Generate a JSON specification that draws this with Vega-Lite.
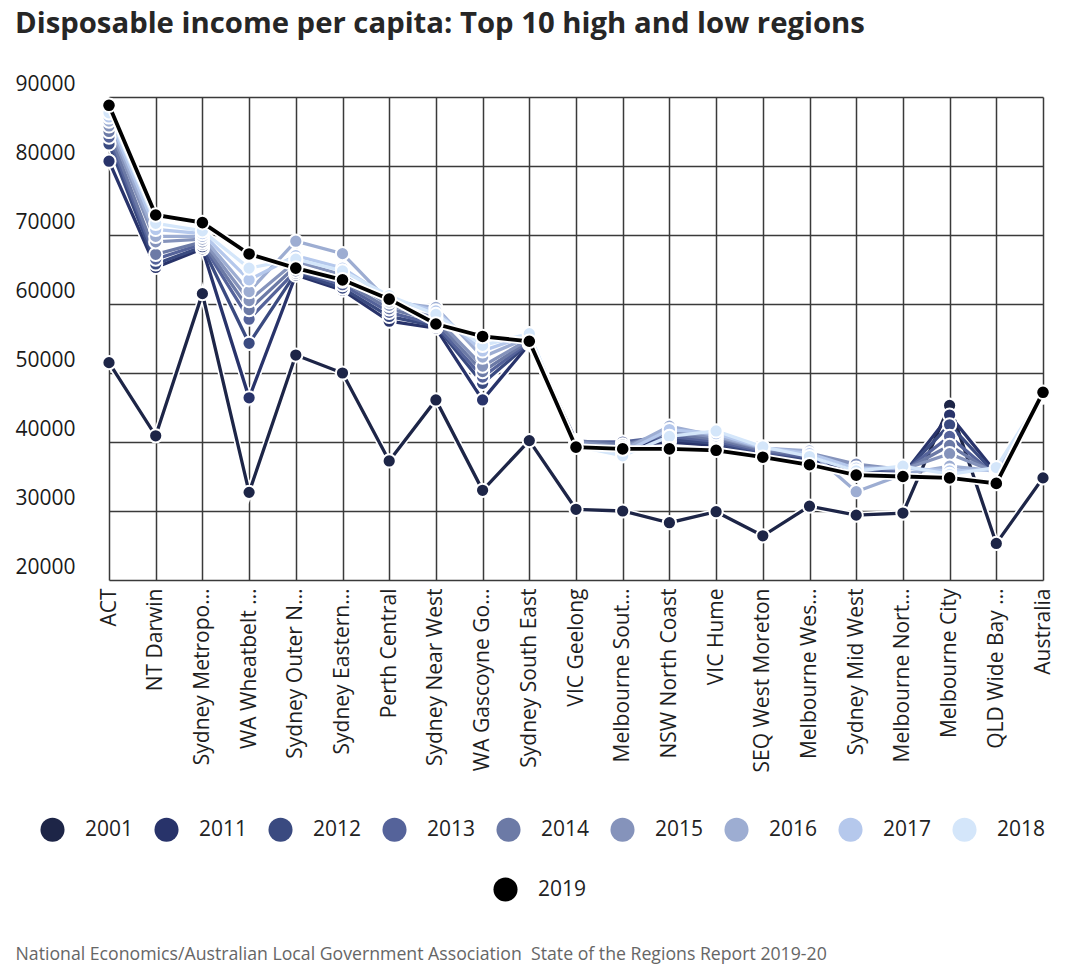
{
  "$schema": "https://vega.github.io/schema/vega-lite/v6.json",
  "width": 1052,
  "height": 483,
  "autosize": {"type": "none"},
  "padding": {"left": 15, "top": 97, "right": 13, "bottom": 397},
  "background": "white",
  "title": {
    "text": "Disposable income per capita: Top 10 high and low regions",
    "anchor": "start",
    "frame": "group",
    "font": "Open Sans",
    "fontSize": 29.3,
    "fontWeight": "bold",
    "color": "#262626",
    "offset": 34
  },
  "config": {
    "view": {"stroke": null},
    "axis": {"gridColor": "#3a3a3a", "gridWidth": 1.5, "gridOpacity": 1}
  },
  "data": {
    "values": [
      {"region": "ACT", "year": "2001", "value": 51500},
      {"region": "NT Darwin", "year": "2001", "value": 40900},
      {"region": "Sydney Metropo…", "year": "2001", "value": 61500},
      {"region": "WA Wheatbelt …", "year": "2001", "value": 32700},
      {"region": "Sydney Outer N…", "year": "2001", "value": 52600},
      {"region": "Sydney Eastern…", "year": "2001", "value": 50000},
      {"region": "Perth Central", "year": "2001", "value": 37250},
      {"region": "Sydney Near West", "year": "2001", "value": 46100},
      {"region": "WA Gascoyne Go…", "year": "2001", "value": 33000},
      {"region": "Sydney South East", "year": "2001", "value": 40200},
      {"region": "VIC Geelong", "year": "2001", "value": 30250},
      {"region": "Melbourne Sout…", "year": "2001", "value": 30000},
      {"region": "NSW North Coast", "year": "2001", "value": 28300},
      {"region": "VIC Hume", "year": "2001", "value": 29900},
      {"region": "SEQ West Moreton", "year": "2001", "value": 26400},
      {"region": "Melbourne Wes…", "year": "2001", "value": 30700},
      {"region": "Sydney Mid West", "year": "2001", "value": 29400},
      {"region": "Melbourne Nort…", "year": "2001", "value": 29700},
      {"region": "Melbourne City", "year": "2001", "value": 45300},
      {"region": "QLD Wide Bay …", "year": "2001", "value": 25300},
      {"region": "Australia", "year": "2001", "value": 34800},

      {"region": "ACT", "year": "2011", "value": 80700},
      {"region": "NT Darwin", "year": "2011", "value": 65300},
      {"region": "Sydney Metropo…", "year": "2011", "value": 68000},
      {"region": "WA Wheatbelt …", "year": "2011", "value": 46400},
      {"region": "Sydney Outer N…", "year": "2011", "value": 64200},
      {"region": "Sydney Eastern…", "year": "2011", "value": 62000},
      {"region": "Perth Central", "year": "2011", "value": 57500},
      {"region": "Sydney Near West", "year": "2011", "value": 56500},
      {"region": "WA Gascoyne Go…", "year": "2011", "value": 46100},
      {"region": "Sydney South East", "year": "2011", "value": 54200},
      {"region": "VIC Geelong", "year": "2011", "value": 39500},
      {"region": "Melbourne Sout…", "year": "2011", "value": 39500},
      {"region": "NSW North Coast", "year": "2011", "value": 40000},
      {"region": "VIC Hume", "year": "2011", "value": 39500},
      {"region": "SEQ West Moreton", "year": "2011", "value": 38200},
      {"region": "Melbourne Wes…", "year": "2011", "value": 37200},
      {"region": "Sydney Mid West", "year": "2011", "value": 35800},
      {"region": "Melbourne Nort…", "year": "2011", "value": 35200},
      {"region": "Melbourne City", "year": "2011", "value": 43900},
      {"region": "QLD Wide Bay …", "year": "2011", "value": 35500},
      {"region": "Australia", "year": "2011", "value": 46500},

      {"region": "ACT", "year": "2012", "value": 83200},
      {"region": "NT Darwin", "year": "2012", "value": 65800},
      {"region": "Sydney Metropo…", "year": "2012", "value": 68300},
      {"region": "WA Wheatbelt …", "year": "2012", "value": 54300},
      {"region": "Sydney Outer N…", "year": "2012", "value": 64500},
      {"region": "Sydney Eastern…", "year": "2012", "value": 62300},
      {"region": "Perth Central", "year": "2012", "value": 58200},
      {"region": "Sydney Near West", "year": "2012", "value": 56800},
      {"region": "WA Gascoyne Go…", "year": "2012", "value": 48500},
      {"region": "Sydney South East", "year": "2012", "value": 54300},
      {"region": "VIC Geelong", "year": "2012", "value": 39700},
      {"region": "Melbourne Sout…", "year": "2012", "value": 39800},
      {"region": "NSW North Coast", "year": "2012", "value": 40400},
      {"region": "VIC Hume", "year": "2012", "value": 39800},
      {"region": "SEQ West Moreton", "year": "2012", "value": 38400},
      {"region": "Melbourne Wes…", "year": "2012", "value": 37500},
      {"region": "Sydney Mid West", "year": "2012", "value": 36100},
      {"region": "Melbourne Nort…", "year": "2012", "value": 35400},
      {"region": "Melbourne City", "year": "2012", "value": 42500},
      {"region": "QLD Wide Bay …", "year": "2012", "value": 35200},
      {"region": "Australia", "year": "2012", "value": 46600},

      {"region": "ACT", "year": "2013", "value": 84200},
      {"region": "NT Darwin", "year": "2013", "value": 66500},
      {"region": "Sydney Metropo…", "year": "2013", "value": 68700},
      {"region": "WA Wheatbelt …", "year": "2013", "value": 57800},
      {"region": "Sydney Outer N…", "year": "2013", "value": 64800},
      {"region": "Sydney Eastern…", "year": "2013", "value": 62800},
      {"region": "Perth Central", "year": "2013", "value": 58800},
      {"region": "Sydney Near West", "year": "2013", "value": 57000},
      {"region": "WA Gascoyne Go…", "year": "2013", "value": 49400},
      {"region": "Sydney South East", "year": "2013", "value": 54500},
      {"region": "VIC Geelong", "year": "2013", "value": 40000},
      {"region": "Melbourne Sout…", "year": "2013", "value": 40000},
      {"region": "NSW North Coast", "year": "2013", "value": 40800},
      {"region": "VIC Hume", "year": "2013", "value": 40100},
      {"region": "SEQ West Moreton", "year": "2013", "value": 38600},
      {"region": "Melbourne Wes…", "year": "2013", "value": 37800},
      {"region": "Sydney Mid West", "year": "2013", "value": 36400},
      {"region": "Melbourne Nort…", "year": "2013", "value": 35600},
      {"region": "Melbourne City", "year": "2013", "value": 40800},
      {"region": "QLD Wide Bay …", "year": "2013", "value": 35000},
      {"region": "Australia", "year": "2013", "value": 46700},

      {"region": "ACT", "year": "2014", "value": 85000},
      {"region": "NT Darwin", "year": "2014", "value": 67200},
      {"region": "Sydney Metropo…", "year": "2014", "value": 69000},
      {"region": "WA Wheatbelt …", "year": "2014", "value": 59200},
      {"region": "Sydney Outer N…", "year": "2014", "value": 65500},
      {"region": "Sydney Eastern…", "year": "2014", "value": 63300},
      {"region": "Perth Central", "year": "2014", "value": 59300},
      {"region": "Sydney Near West", "year": "2014", "value": 57500},
      {"region": "WA Gascoyne Go…", "year": "2014", "value": 50200},
      {"region": "Sydney South East", "year": "2014", "value": 54700},
      {"region": "VIC Geelong", "year": "2014", "value": 40200},
      {"region": "Melbourne Sout…", "year": "2014", "value": 39600},
      {"region": "NSW North Coast", "year": "2014", "value": 41200},
      {"region": "VIC Hume", "year": "2014", "value": 40400},
      {"region": "SEQ West Moreton", "year": "2014", "value": 38800},
      {"region": "Melbourne Wes…", "year": "2014", "value": 38100},
      {"region": "Sydney Mid West", "year": "2014", "value": 36600},
      {"region": "Melbourne Nort…", "year": "2014", "value": 35800},
      {"region": "Melbourne City", "year": "2014", "value": 39500},
      {"region": "QLD Wide Bay …", "year": "2014", "value": 35300},
      {"region": "Australia", "year": "2014", "value": 46800},

      {"region": "ACT", "year": "2015", "value": 85800},
      {"region": "NT Darwin", "year": "2015", "value": 69000},
      {"region": "Sydney Metropo…", "year": "2015", "value": 69400},
      {"region": "WA Wheatbelt …", "year": "2015", "value": 60500},
      {"region": "Sydney Outer N…", "year": "2015", "value": 66200},
      {"region": "Sydney Eastern…", "year": "2015", "value": 64200},
      {"region": "Perth Central", "year": "2015", "value": 59800},
      {"region": "Sydney Near West", "year": "2015", "value": 58000},
      {"region": "WA Gascoyne Go…", "year": "2015", "value": 51000},
      {"region": "Sydney South East", "year": "2015", "value": 54900},
      {"region": "VIC Geelong", "year": "2015", "value": 40000},
      {"region": "Melbourne Sout…", "year": "2015", "value": 39300},
      {"region": "NSW North Coast", "year": "2015", "value": 41600},
      {"region": "VIC Hume", "year": "2015", "value": 40700},
      {"region": "SEQ West Moreton", "year": "2015", "value": 39000},
      {"region": "Melbourne Wes…", "year": "2015", "value": 38400},
      {"region": "Sydney Mid West", "year": "2015", "value": 36800},
      {"region": "Melbourne Nort…", "year": "2015", "value": 36000},
      {"region": "Melbourne City", "year": "2015", "value": 38300},
      {"region": "QLD Wide Bay …", "year": "2015", "value": 35600},
      {"region": "Australia", "year": "2015", "value": 46900},

      {"region": "ACT", "year": "2016", "value": 86500},
      {"region": "NT Darwin", "year": "2016", "value": 69800},
      {"region": "Sydney Metropo…", "year": "2016", "value": 69800},
      {"region": "WA Wheatbelt …", "year": "2016", "value": 61800},
      {"region": "Sydney Outer N…", "year": "2016", "value": 69100},
      {"region": "Sydney Eastern…", "year": "2016", "value": 67300},
      {"region": "Perth Central", "year": "2016", "value": 60300},
      {"region": "Sydney Near West", "year": "2016", "value": 59500},
      {"region": "WA Gascoyne Go…", "year": "2016", "value": 52300},
      {"region": "Sydney South East", "year": "2016", "value": 55200},
      {"region": "VIC Geelong", "year": "2016", "value": 39800},
      {"region": "Melbourne Sout…", "year": "2016", "value": 38800},
      {"region": "NSW North Coast", "year": "2016", "value": 42300},
      {"region": "VIC Hume", "year": "2016", "value": 40900},
      {"region": "SEQ West Moreton", "year": "2016", "value": 39100},
      {"region": "Melbourne Wes…", "year": "2016", "value": 38700},
      {"region": "Sydney Mid West", "year": "2016", "value": 32800},
      {"region": "Melbourne Nort…", "year": "2016", "value": 35300},
      {"region": "Melbourne City", "year": "2016", "value": 36500},
      {"region": "QLD Wide Bay …", "year": "2016", "value": 35800},
      {"region": "Australia", "year": "2016", "value": 47000},

      {"region": "ACT", "year": "2017", "value": 87100},
      {"region": "NT Darwin", "year": "2017", "value": 70800},
      {"region": "Sydney Metropo…", "year": "2017", "value": 70200},
      {"region": "WA Wheatbelt …", "year": "2017", "value": 63500},
      {"region": "Sydney Outer N…", "year": "2017", "value": 67000},
      {"region": "Sydney Eastern…", "year": "2017", "value": 65200},
      {"region": "Perth Central", "year": "2017", "value": 60800},
      {"region": "Sydney Near West", "year": "2017", "value": 59000},
      {"region": "WA Gascoyne Go…", "year": "2017", "value": 53200},
      {"region": "Sydney South East", "year": "2017", "value": 55500},
      {"region": "VIC Geelong", "year": "2017", "value": 39600},
      {"region": "Melbourne Sout…", "year": "2017", "value": 38400},
      {"region": "NSW North Coast", "year": "2017", "value": 41800},
      {"region": "VIC Hume", "year": "2017", "value": 41200},
      {"region": "SEQ West Moreton", "year": "2017", "value": 39200},
      {"region": "Melbourne Wes…", "year": "2017", "value": 38300},
      {"region": "Sydney Mid West", "year": "2017", "value": 36200},
      {"region": "Melbourne Nort…", "year": "2017", "value": 36200},
      {"region": "Melbourne City", "year": "2017", "value": 35800},
      {"region": "QLD Wide Bay …", "year": "2017", "value": 36000},
      {"region": "Australia", "year": "2017", "value": 47000},

      {"region": "ACT", "year": "2018", "value": 87700},
      {"region": "NT Darwin", "year": "2018", "value": 71700},
      {"region": "Sydney Metropo…", "year": "2018", "value": 70600},
      {"region": "WA Wheatbelt …", "year": "2018", "value": 65200},
      {"region": "Sydney Outer N…", "year": "2018", "value": 66500},
      {"region": "Sydney Eastern…", "year": "2018", "value": 64800},
      {"region": "Perth Central", "year": "2018", "value": 61200},
      {"region": "Sydney Near West", "year": "2018", "value": 58500},
      {"region": "WA Gascoyne Go…", "year": "2018", "value": 54000},
      {"region": "Sydney South East", "year": "2018", "value": 55700},
      {"region": "VIC Geelong", "year": "2018", "value": 39400},
      {"region": "Melbourne Sout…", "year": "2018", "value": 38000},
      {"region": "NSW North Coast", "year": "2018", "value": 40800},
      {"region": "VIC Hume", "year": "2018", "value": 41600},
      {"region": "SEQ West Moreton", "year": "2018", "value": 39300},
      {"region": "Melbourne Wes…", "year": "2018", "value": 37900},
      {"region": "Sydney Mid West", "year": "2018", "value": 35800},
      {"region": "Melbourne Nort…", "year": "2018", "value": 36500},
      {"region": "Melbourne City", "year": "2018", "value": 35300},
      {"region": "QLD Wide Bay …", "year": "2018", "value": 36300},
      {"region": "Australia", "year": "2018", "value": 47000},

      {"region": "ACT", "year": "2019", "value": 88800},
      {"region": "NT Darwin", "year": "2019", "value": 72900},
      {"region": "Sydney Metropo…", "year": "2019", "value": 71800},
      {"region": "WA Wheatbelt …", "year": "2019", "value": 67250},
      {"region": "Sydney Outer N…", "year": "2019", "value": 65200},
      {"region": "Sydney Eastern…", "year": "2019", "value": 63500},
      {"region": "Perth Central", "year": "2019", "value": 60700},
      {"region": "Sydney Near West", "year": "2019", "value": 57100},
      {"region": "WA Gascoyne Go…", "year": "2019", "value": 55300},
      {"region": "Sydney South East", "year": "2019", "value": 54600},
      {"region": "VIC Geelong", "year": "2019", "value": 39250},
      {"region": "Melbourne Sout…", "year": "2019", "value": 39000},
      {"region": "NSW North Coast", "year": "2019", "value": 39000},
      {"region": "VIC Hume", "year": "2019", "value": 38800},
      {"region": "SEQ West Moreton", "year": "2019", "value": 37800},
      {"region": "Melbourne Wes…", "year": "2019", "value": 36700},
      {"region": "Sydney Mid West", "year": "2019", "value": 35200},
      {"region": "Melbourne Nort…", "year": "2019", "value": 35000},
      {"region": "Melbourne City", "year": "2019", "value": 34800},
      {"region": "QLD Wide Bay …", "year": "2019", "value": 34000},
      {"region": "Australia", "year": "2019", "value": 47200}
    ]
  },
  "encoding": {
    "x": {
      "field": "region",
      "type": "nominal",
      "sort": ["ACT", "NT Darwin", "Sydney Metropo…", "WA Wheatbelt …", "Sydney Outer N…", "Sydney Eastern…", "Perth Central", "Sydney Near West", "WA Gascoyne Go…", "Sydney South East", "VIC Geelong", "Melbourne Sout…", "NSW North Coast", "VIC Hume", "SEQ West Moreton", "Melbourne Wes…", "Sydney Mid West", "Melbourne Nort…", "Melbourne City", "QLD Wide Bay …", "Australia"],
      "scale": {"type": "point", "range": [94, 1028], "padding": 0},
      "axis": {
        "title": "National Economics/Australian Local Government Association \u00a0State of the Regions Report 2019-20",
        "titleX": 0,
        "titleY": 379,
        "titleAlign": "left",
        "titleAnchor": "start",
        "titleAngle": 0,
        "titleBaseline": "alphabetic",
        "titleFont": "Open Sans",
        "titleFontSize": 17.7,
        "titleFontWeight": "normal",
        "titleColor": "#666666",
        "labelAngle": -90,
        "labelFont": "Open Sans",
        "labelFontSize": 21,
        "labelColor": "#1e1e1e",
        "labelPadding": 8,
        "labelLimit": 400,
        "labelOverlap": false,
        "ticks": false,
        "tickSize": 0,
        "domain": false,
        "grid": true
      }
    },
    "y": {
      "field": "value",
      "type": "quantitative",
      "scale": {"domain": [20000, 90000], "nice": false, "zero": false},
      "axis": {
        "title": null,
        "values": [20000, 30000, 40000, 50000, 60000, 70000, 80000, 90000],
        "format": "d",
        "labelAlign": "left",
        "labelBaseline": "alphabetic",
        "labelOffset": -7,
        "labelPadding": 0,
        "labelFlush": false,
        "ticks": false,
        "tickSize": 0,
        "domain": false,
        "labelFont": "Open Sans",
        "labelFontSize": 21,
        "labelColor": "#1a1a1a"
      }
    }
  },
  "layer": [
    {
      "transform": [{"filter": "datum.year != '2019'"}],
      "mark": {"type": "line", "color": "white", "strokeWidth": 6.5},
      "encoding": {"detail": {"field": "year", "type": "nominal"}}
    },
    {
      "transform": [{"filter": "datum.year != '2019'"}],
      "mark": {"type": "line", "strokeWidth": 3.3},
      "encoding": {
        "stroke": {
          "field": "year",
          "type": "nominal",
          "scale": {
            "domain": ["2001", "2011", "2012", "2013", "2014", "2015", "2016", "2017", "2018", "2019"],
            "range": ["#1d2547", "#28336a", "#3a4a80", "#55639a", "#6c7aa6", "#8593bb", "#9dadd2", "#b5c8ec", "#d4e6fa", "#000000"]
          },
          "legend": null
        }
      }
    },
    {
      "transform": [{"filter": "datum.year != '2019'"}],
      "mark": {"type": "point", "filled": true, "size": 175, "stroke": "white", "strokeWidth": 2, "opacity": 1},
      "encoding": {
        "color": {
          "field": "year",
          "type": "nominal",
          "scale": {
            "domain": ["2001", "2011", "2012", "2013", "2014", "2015", "2016", "2017", "2018"],
            "range": ["#1d2547", "#28336a", "#3a4a80", "#55639a", "#6c7aa6", "#8593bb", "#9dadd2", "#b5c8ec", "#d4e6fa"]
          },
          "legend": {
            "orient": "none",
            "legendX": 25,
            "legendY": 720,
            "direction": "horizontal",
            "title": null,
            "symbolType": "circle",
            "symbolSize": 580,
            "symbolStrokeWidth": 0,
            "symbolOpacity": 1,
            "labelFont": "Open Sans",
            "labelFontSize": 21,
            "labelColor": "#222222",
            "labelOffset": 20,
            "columnPadding": 20,
            "padding": 0
          }
        }
      }
    },
    {
      "transform": [{"filter": "datum.year == '2019'"}],
      "mark": {"type": "line", "color": "white", "strokeWidth": 7.5},
      "encoding": {}
    },
    {
      "transform": [{"filter": "datum.year == '2019'"}],
      "mark": {"type": "line", "strokeWidth": 3.8},
      "encoding": {
        "stroke": {"field": "year", "type": "nominal", "legend": null}
      }
    },
    {
      "transform": [{"filter": "datum.year == '2019'"}],
      "mark": {"type": "point", "filled": false, "size": 185, "stroke": "white", "strokeWidth": 2, "opacity": 1, "fillOpacity": 1},
      "encoding": {
        "fill": {
          "field": "year",
          "type": "nominal",
          "scale": {"domain": ["2019"], "range": ["#000000"]},
          "legend": {
            "orient": "none",
            "legendX": 478,
            "legendY": 780,
            "title": null,
            "symbolType": "circle",
            "symbolSize": 580,
            "symbolStrokeWidth": 0,
            "symbolOpacity": 1,
            "labelFont": "Open Sans",
            "labelFontSize": 21,
            "labelColor": "#222222",
            "labelOffset": 20,
            "padding": 0
          }
        }
      }
    }
  ]
}
